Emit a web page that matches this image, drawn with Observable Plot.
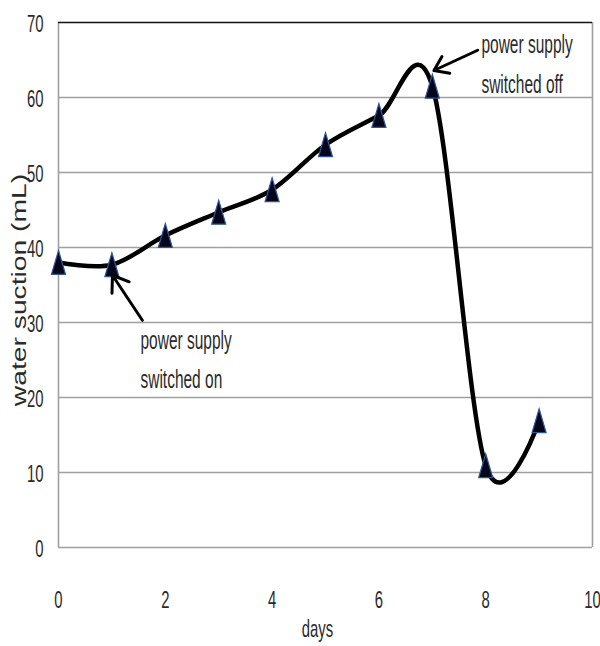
<!DOCTYPE html>
<html>
<head>
<meta charset="utf-8">
<script src="https://cdn.jsdelivr.net/npm/d3@7"></script>
<script src="https://cdn.jsdelivr.net/npm/@observablehq/plot@0.6"></script>
<style>
html,body{margin:0;padding:0;background:#fff;}
</style>
</head>
<body>
<div id="chart"></div>
<script>
const days = [0, 1, 2, 3, 4, 5, 6, 7, 8, 9];
const suction = [38, 37.7, 41.6, 44.7, 47.7, 53.7, 57.6, 61.5, 10.9, 16.9];
const xTicks = [0, 2, 4, 6, 8, 10];
const yTicks = [0, 10, 20, 30, 40, 50, 60, 70];
const gridY = [10, 20, 30, 40, 50, 60];
const annotations = [
  {label: "power supply", x: 1.535, y: 27.6},
  {label: "switched on", x: 1.535, y: 22.3},
  {label: "power supply", x: 7.92, y: 67.0},
  {label: "switched off", x: 7.92, y: 61.7}
];
const arrows = [
  {x1: 1.57, y1: 30.3, x2: 1.01, y2: 36.3},
  {x1: 7.85, y1: 66.3, x2: 7.03, y2: 63.6}
];

const data = days.map((d, i) => ({day: d, value: suction[i]}));
const font = "'Liberation Sans', Arial, sans-serif";

// tall, narrow triangle marker (as in the reference)
const tallTriangle = {
  draw(ctx, size) {
    const s = Math.sqrt(size / Math.PI);
    const hw = 0.78 * s, hh = 1.33 * s;
    ctx.moveTo(0, -hh);
    ctx.lineTo(hw, hh);
    ctx.lineTo(-hw, hh);
    ctx.closePath();
  }
};

const chart = Plot.plot({
  width: 600,
  height: 646,
  marginLeft: 58,
  marginRight: 8,
  marginTop: 22,
  marginBottom: 99,
  style: {fontFamily: font, fontSize: "24px", background: "#fff", color: "#222"},
  x: {domain: [0, 10], label: null},
  y: {domain: [0, 70], label: null},
  marks: [
    Plot.ruleY(gridY, {stroke: "#a0a0a0", strokeWidth: 1.6}),
    Plot.ruleY([0], {stroke: "#a0a0a0", strokeWidth: 1.6}),
    Plot.ruleX([0, 10], {stroke: "#a0a0a0", strokeWidth: 1.6}),
    Plot.ruleY([70], {stroke: "#111", strokeWidth: 1.6}),
    Plot.line(data, {x: "day", y: "value", curve: "cardinal", stroke: "#000", strokeWidth: 4.5}),
    Plot.dot(data, {x: "day", y: "value", symbol: tallTriangle, r: 9, fill: "#06061a", stroke: "#2f5597", strokeWidth: 1.2}),
    Plot.arrow(arrows, {x1: "x1", y1: "y1", x2: "x2", y2: "y2", stroke: "#000", strokeWidth: 3, headLength: 15, headAngle: 70, bend: false}),
    Plot.text(annotations, {x: "x", y: "y", text: "label", textAnchor: "start", lineAnchor: "middle", fontSize: 25, fill: "#2a2a2a"}),
    Plot.axisX({ticks: xTicks, tickSize: 0, tickPadding: 43, label: null, fontSize: 24, fill: "#2a2a2a"}),
    Plot.axisY({ticks: yTicks, tickSize: 0, tickPadding: 15, label: null, fontSize: 24, dy: 2, fill: "#2a2a2a"}),
    Plot.text(["days"], {frameAnchor: "bottom", textAnchor: "middle", lineAnchor: "middle", dx: -8, dy: 82, fontSize: 24, fill: "#2a2a2a"}),
    Plot.text(["water suction (mL)"], {frameAnchor: "left", textAnchor: "middle", lineAnchor: "middle", dx: -39, dy: 5, rotate: -90, fontSize: 19.5, fill: "#2a2a2a"})
  ]
});

// The reference's text is horizontally condensed (and its rotated label stretched along its length)
chart.querySelectorAll("text").forEach(t => {
  const tr = t.getAttribute("transform") || "";
  const x = parseFloat(t.getAttribute("x")) || 0;
  const s = /rotate/.test(tr) ? 1.45 : 0.62;
  t.setAttribute("transform", `${tr} translate(${x},0) scale(${s},1) translate(${-x},0)`);
});

document.getElementById("chart").appendChild(chart);
</script>
</body>
</html>
